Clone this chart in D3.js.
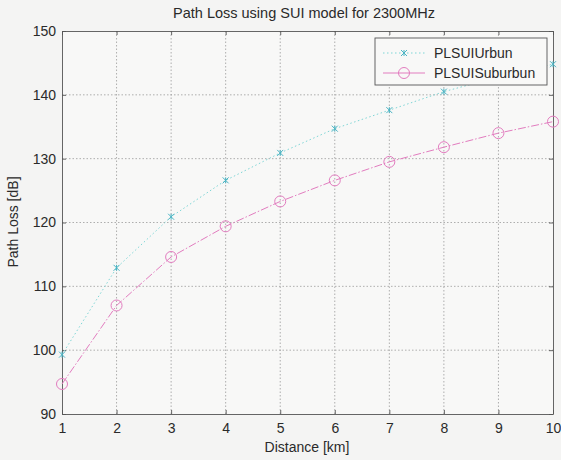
<!DOCTYPE html>
<html><head><meta charset="utf-8">
<script src="https://cdn.jsdelivr.net/npm/d3@7"></script>
<style>body{margin:0;background:#f4f4f3;}svg{display:block;font-family:"Liberation Sans",Arial,sans-serif;}</style>
</head><body><svg id="c" width="561" height="460"></svg>
<script>
const distance = [1,2,3,4,5,6,7,8,9,10];
const urban = [99.3,112.9,120.9,126.6,130.9,134.7,137.6,140.5,142.8,144.8];
const suburban = [94.7,107.0,114.6,119.4,123.3,126.6,129.5,131.8,134.0,135.8];
const xTicks = [1,2,3,4,5,6,7,8,9,10];
const yTicks = [90,100,110,120,130,140,150];
const seriesNames = ["PLSUIUrbun","PLSUISuburbun"];

const svg = d3.select("#c");
const L=62,R=553,T=31,B=414;
const x = d3.scaleLinear().domain([1,10]).range([L,R]);
const y = d3.scaleLinear().domain([90,150]).range([B,T]);
const txt="#2a2a2a";

svg.append("rect").attr("x",L).attr("y",T).attr("width",R-L).attr("height",B-T).attr("fill","#f8f8f7");
const grid = svg.append("g").attr("stroke","#9a9a9a").attr("stroke-width",0.8).attr("stroke-dasharray","1.5,2");
xTicks.slice(1,-1).forEach(v=>grid.append("line").attr("x1",x(v)).attr("x2",x(v)).attr("y1",T).attr("y2",B));
yTicks.slice(1,-1).forEach(v=>grid.append("line").attr("y1",y(v)).attr("y2",y(v)).attr("x1",L).attr("x2",R));

const xAxis = svg.append("g").attr("transform",`translate(0,${B})`).call(d3.axisBottom(x).tickValues(xTicks).tickSizeInner(-4).tickSizeOuter(0).tickPadding(9));
const yAxis = svg.append("g").attr("transform",`translate(${L},0)`).call(d3.axisLeft(y).tickValues(yTicks).tickSizeInner(-4).tickSizeOuter(0).tickPadding(6));
const xTop = svg.append("g").attr("transform",`translate(0,${T})`).call(d3.axisTop(x).tickValues(xTicks).tickSizeInner(-4).tickSizeOuter(0).tickFormat(""));
const yRight = svg.append("g").attr("transform",`translate(${R},0)`).call(d3.axisRight(y).tickValues(yTicks).tickSizeInner(-4).tickSizeOuter(0).tickFormat(""));
[xAxis,yAxis,xTop,yRight].forEach(g=>{g.selectAll("path,line").attr("stroke","#555").attr("stroke-width",0.9);g.selectAll("text").attr("font-size",14).attr("fill",txt).attr("font-family","Liberation Sans, Arial, sans-serif");});

const line = d3.line().x((d,i)=>x(distance[i])).y(d=>y(d)).curve(d3.curveLinear);
const cUrban="#7fd6d6", cSub="#e27cbf";
svg.append("path").datum(urban).attr("d",line).attr("fill","none").attr("stroke",cUrban).attr("stroke-width",1).attr("stroke-dasharray","1.5,2.5");
svg.append("path").datum(suburban).attr("d",line).attr("fill","none").attr("stroke",cSub).attr("stroke-width",1).attr("stroke-dasharray","8,2,1.5,2");

function xMark(g,cx,cy,c){const s=3;g.append("path").attr("d",`M${cx-s},${cy-s}L${cx+s},${cy+s}M${cx-s},${cy+s}L${cx+s},${cy-s}M${cx},${cy-s}L${cx},${cy+s}`).attr("stroke",c).attr("stroke-width",1).attr("fill","none");}
const mg = svg.append("g");
urban.forEach((v,i)=>xMark(mg,x(distance[i]),y(v),"#4ab4c4"));
suburban.forEach((v,i)=>mg.append("circle").attr("cx",x(distance[i])).attr("cy",y(v)).attr("r",5.5).attr("fill","none").attr("stroke",cSub).attr("stroke-width",1));

// legend
const lg = svg.append("g");
lg.append("rect").attr("x",375).attr("y",38).attr("width",172).attr("height",47).attr("fill","#f8f8f7").attr("stroke","#555").attr("stroke-width",0.9);
[[cUrban,"1.5,2.5"],[cSub,null]].forEach((s,i)=>{
  const yy=53+i*20;
  const l=lg.append("line").attr("x1",383).attr("x2",425).attr("y1",yy).attr("y2",yy).attr("stroke",s[0]).attr("stroke-width",1);
  if(s[1]) l.attr("stroke-dasharray",s[1]);
  if(i===0) xMark(lg,404,yy,"#4ab4c4"); else lg.append("circle").attr("cx",404).attr("cy",yy).attr("r",5.5).attr("fill","none").attr("stroke",cSub);
  lg.append("text").attr("x",434).attr("y",yy+5).attr("font-size",14).attr("fill",txt).text(seriesNames[i]);
});

svg.append("text").attr("x",304).attr("y",18).attr("text-anchor","middle").attr("font-size",14.5).attr("fill",txt).text("Path Loss using SUI model for 2300MHz");
svg.append("text").attr("x",307).attr("y",452).attr("text-anchor","middle").attr("font-size",14).attr("fill",txt).text("Distance [km]");
svg.append("text").attr("transform","translate(18,222) rotate(-90)").attr("text-anchor","middle").attr("font-size",14).attr("fill",txt).text("Path Loss [dB]");
</script></body></html>
